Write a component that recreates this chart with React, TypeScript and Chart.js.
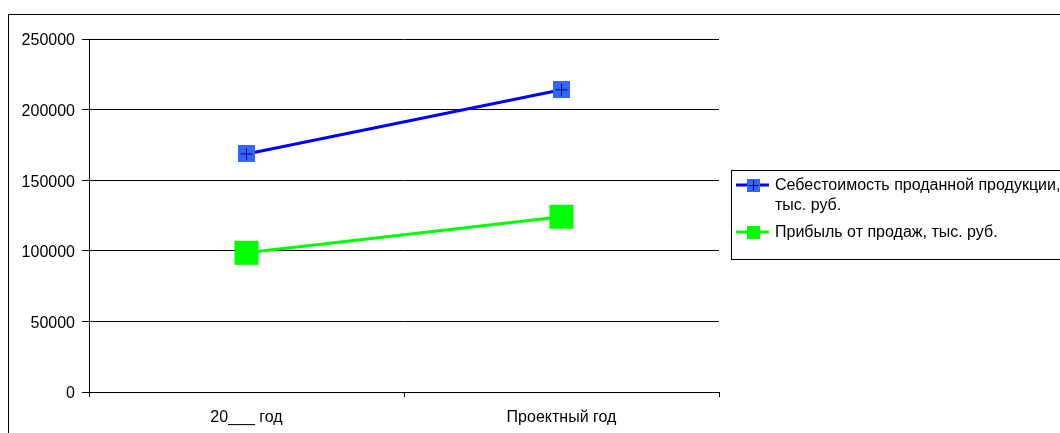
import React, { useEffect, useRef } from "react";
import { Chart, registerables } from "chart.js";

Chart.register(...registerables);

const categories = ["20___ год", "Проектный год"];
const costValues = [168600, 214000];
const profitValues = [98600, 124100];
const seriesNames = [
  "Себестоимость проданной продукции, тыс. руб.",
  "Прибыль от продаж, тыс. руб.",
];
const yTicks = [0, 50000, 100000, 150000, 200000, 250000];

const FONT_FAMILY = "'Liberation Sans', Arial, sans-serif";
const FONT_SIZE = 16;

function makeCrossMarker(size: number, fill: string, cross: string, arm: number) {
  const c = document.createElement("canvas");
  c.width = size;
  c.height = size;
  const ctx = c.getContext("2d")!;
  ctx.fillStyle = fill;
  ctx.fillRect(0, 0, size, size);
  ctx.strokeStyle = cross;
  ctx.lineWidth = 1;
  const m = Math.floor(size / 2) + 0.5;
  ctx.beginPath();
  ctx.moveTo(m - arm, m);
  ctx.lineTo(m + arm, m);
  ctx.moveTo(m, m - arm);
  ctx.lineTo(m, m + arm);
  ctx.stroke();
  return c;
}

function makeSquareMarker(size: number, fill: string) {
  const c = document.createElement("canvas");
  c.width = size;
  c.height = size;
  const ctx = c.getContext("2d")!;
  ctx.fillStyle = fill;
  ctx.fillRect(0, 0, size, size);
  return c;
}

const legendPlugin = {
  id: "boxLegend",
  afterDraw(chart: any) {
    const ctx = chart.ctx as CanvasRenderingContext2D;
    const x0 = 722;
    const y0 = 155;
    const y1 = 244;
    ctx.save();
    ctx.strokeStyle = "#000";
    ctx.lineWidth = 1;
    ctx.strokeRect(x0 + 0.5, y0 + 0.5, chart.width, y1 - y0);
    ctx.font = `${FONT_SIZE}px ${FONT_FAMILY}`;
    ctx.textBaseline = "middle";
    let y = 170;
    chart.data.datasets.forEach((ds: any) => {
      ctx.strokeStyle = ds.borderColor;
      ctx.lineWidth = 3;
      ctx.beginPath();
      ctx.moveTo(727, y);
      ctx.lineTo(760, y);
      ctx.stroke();
      const mk = ds.legendMarker as HTMLCanvasElement;
      ctx.drawImage(mk, Math.round(744 - mk.width / 2), Math.round(y - mk.height / 2));
      const words = String(ds.label).split(" ");
      const lines: string[] = [];
      let cur = "";
      words.forEach((w) => {
        const test = cur ? cur + " " + w : w;
        if (ctx.measureText(test).width > 300 && cur) {
          lines.push(cur);
          cur = w;
        } else {
          cur = test;
        }
      });
      if (cur) lines.push(cur);
      ctx.fillStyle = "#000";
      lines.forEach((ln, i) => {
        ctx.fillText(ln, 766, y + i * 20 + 1);
      });
      y += lines.length * 20 + 7;
    });
    ctx.restore();
  },
};

export default function App() {
  const ref = useRef<HTMLCanvasElement | null>(null);

  useEffect(() => {
    document.body.style.overflow = "hidden";
    const canvas = ref.current!;
    const blueMarker = makeCrossMarker(17, "#3366FF", "#000080", 6);
    const blueLegend = makeCrossMarker(13, "#3366FF", "#000080", 5);
    const greenLegend = makeSquareMarker(13, "#00FF00");
    const font = { family: FONT_FAMILY, size: FONT_SIZE };

    const chart = new Chart(canvas, {
      type: "line",
      data: {
        labels: categories,
        datasets: [
          {
            label: seriesNames[0],
            data: costValues,
            borderColor: "#0000FF",
            backgroundColor: "#3366FF",
            borderWidth: 3,
            pointStyle: blueMarker as any,
            pointRadius: 9,
            pointBorderWidth: 0,
            tension: 0,
            legendMarker: blueLegend,
          } as any,
          {
            label: seriesNames[1],
            data: profitValues,
            borderColor: "#00FF00",
            backgroundColor: "#00FF00",
            pointBackgroundColor: "#00FF00",
            borderWidth: 3,
            pointStyle: "rect",
            pointRadius: 17,
            pointBorderWidth: 0,
            tension: 0,
            legendMarker: greenLegend,
          } as any,
        ],
      },
      options: {
        animation: false,
        responsive: false,
        maintainAspectRatio: false,
        layout: { padding: { top: 24, right: 341, bottom: 0, left: 0 } },
        plugins: {
          legend: { display: false },
          tooltip: { enabled: false },
        },
        scales: {
          x: {
            offset: true,
            grid: {
              display: true,
              drawOnChartArea: false,
              offset: true,
              tickLength: 5,
              color: "#000",
            },
            border: { color: "#000", width: 1 },
            ticks: { color: "#000", font, padding: 11, maxRotation: 0 },
            afterFit(scale: any) {
              scale.height = 41;
            },
          },
          y: {
            min: 0,
            max: 250000,
            ticks: {
              color: "#000",
              font,
              padding: 7,
              labelOffset: 2,
              callback: (v: any) => String(v),
            },
            afterBuildTicks(scale: any) {
              scale.ticks = yTicks.map((v) => ({ value: v }));
            },
            grid: { color: "#000", tickLength: 7, lineWidth: 1 },
            border: { color: "#000", width: 1 },
            afterFit(scale: any) {
              scale.width = 80;
            },
          },
        },
      },
      plugins: [legendPlugin],
    });
    return () => chart.destroy();
  }, []);

  return (
    <div
      style={{
        position: "absolute",
        left: 8,
        top: 14,
        width: 1052,
        height: 419,
        boxSizing: "border-box",
        borderLeft: "1px solid #000",
        borderTop: "1px solid #000",
        overflow: "hidden",
        background: "#fff",
      }}
    >
      <canvas ref={ref} width={1051} height={418} style={{ display: "block" }} />
    </div>
  );
}
